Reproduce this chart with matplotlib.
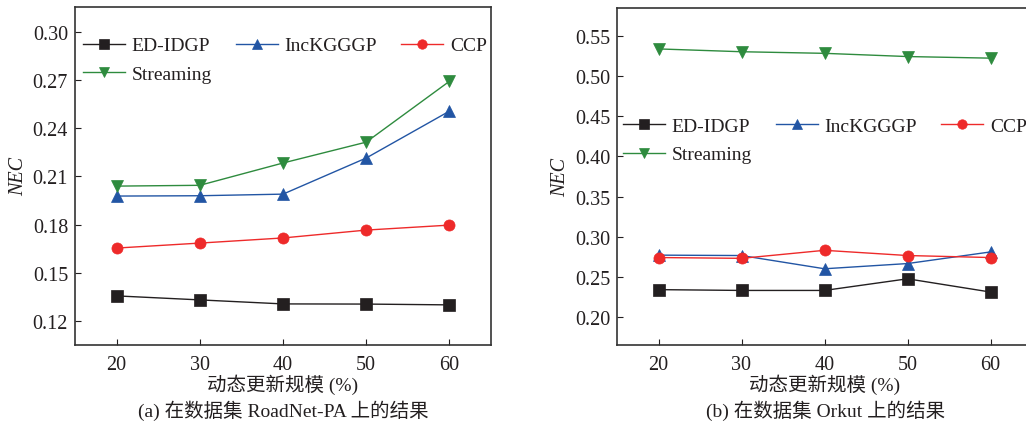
import matplotlib
matplotlib.use("Agg")
import matplotlib.pyplot as plt

plt.rcParams['font.family'] = ['Liberation Serif', 'Noto Sans CJK SC']

# Dynamic update scale (%)
update_scale = [20, 30, 40, 50, 60]

# (a) RoadNet-PA
roadnet_ed_idgp = [0.1356, 0.1331, 0.1306, 0.1305, 0.1300]
roadnet_inckgggp = [0.1978, 0.1980, 0.1990, 0.2215, 0.2507]
roadnet_ccp = [0.1654, 0.1685, 0.1717, 0.1766, 0.1797]
roadnet_streaming = [0.2040, 0.2045, 0.2184, 0.2314, 0.2693]

# (b) Orkut
orkut_ed_idgp = [0.2340, 0.2330, 0.2330, 0.2475, 0.2310]
orkut_inckgggp = [0.2770, 0.2765, 0.2600, 0.2665, 0.2810]
orkut_ccp = [0.2740, 0.2730, 0.2830, 0.2765, 0.2740]
orkut_streaming = [0.5340, 0.5305, 0.5285, 0.5245, 0.5225]

series_names = ['ED-IDGP', 'IncKGGGP', 'CCP', 'Streaming']
colors = ['#231f20', '#2255a4', '#ee2a2a', '#2e8b3e']
markers = ['s', '^', 'o', 'v']

roadnet_ticks = [0.12, 0.15, 0.18, 0.21, 0.24, 0.27, 0.30]
orkut_ticks = [0.20, 0.25, 0.30, 0.35, 0.40, 0.45, 0.50, 0.55]

xlabel = '动态更新规模 (%)'
caption_a = '(a) 在数据集 RoadNet-PA 上的结果'
caption_b = '(b) 在数据集 Orkut 上的结果'

W, H = 1026, 427
fig = plt.figure(figsize=(W / 100, H / 100), dpi=100)


def px_axes(left, top, right, bottom):
    return fig.add_axes([left / W, 1 - bottom / H, (right - left) / W, (bottom - top) / H])


def draw_panel(ax, data, yticks, ylim, legend_anchor):
    handles = []
    for vals, name, c, m in zip(data, series_names, colors, markers):
        h, = ax.plot(update_scale, vals, color=c, marker=m, markersize=8,
                     linewidth=1.0, label=name, markeredgewidth=0.5)
        handles.append(h)
    ax.set_xlim(15, 65)
    ax.set_ylim(*ylim)
    ax.set_xticks(update_scale)
    ax.set_yticks(yticks)
    ax.set_yticklabels(['{:.2f}'.format(t) for t in yticks])
    ax.tick_params(direction='in', length=4, width=0.8, labelsize=14.5,
                   colors='#231f20', pad=5)
    ax.tick_params(axis='x', pad=7)
    for s in ax.spines.values():
        s.set_color('#333333')
        s.set_linewidth(1.2)
    ax.set_ylabel('NEC', fontsize=14.5, style='italic', color='#231f20', labelpad=3)
    ax.set_xlabel(xlabel, fontsize=14, color='#231f20', labelpad=0)
    # fill the legend row by row: ED-IDGP, IncKGGGP, CCP / Streaming
    order = [0, 3, 1, 2]
    leg = ax.legend([handles[i] for i in order], [series_names[i] for i in order],
                    ncol=3, loc='upper left', bbox_to_anchor=legend_anchor,
                    frameon=False, fontsize=14, handlelength=2.15,
                    handletextpad=0.35, columnspacing=1.25, labelspacing=0.55,
                    borderaxespad=0, borderpad=0, markerscale=0.85)
    for t in leg.get_texts():
        t.set_color('#231f20')


ax1 = px_axes(75, 8, 491, 346)
draw_panel(ax1, [roadnet_ed_idgp, roadnet_inckgggp, roadnet_ccp, roadnet_streaming],
           roadnet_ticks, (0.105, 0.3156), (0.019, 0.912))

ax2 = px_axes(617, 9, 1032, 346)
draw_panel(ax2, [orkut_ed_idgp, orkut_inckgggp, orkut_ccp, orkut_streaming],
           orkut_ticks, (0.165, 0.585), (0.014, 0.675))

fig.text(283 / W, 1 - 411 / H, caption_a, ha='center', va='center',
         fontsize=14, color='#231f20')
fig.text(826 / W, 1 - 411 / H, caption_b, ha='center', va='center',
         fontsize=14, color='#231f20')

fig.savefig('out.png', dpi=100, facecolor='white')
